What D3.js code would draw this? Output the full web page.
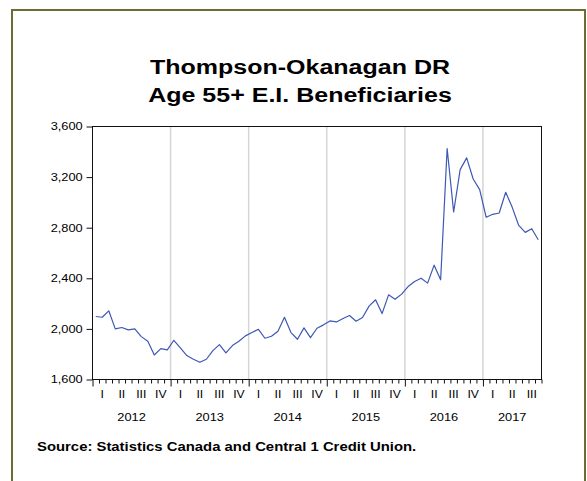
<!DOCTYPE html>
<html>
<head>
<meta charset="utf-8">
<script src="https://cdn.jsdelivr.net/npm/d3@7"></script>
<style>
  html, body { margin: 0; padding: 0; background: #fff; }
  svg { display: block; }
  text { font-family: "Liberation Sans", Arial, sans-serif; fill: #000; }
</style>
</head>
<body>
<svg id="chart" width="587" height="481"></svg>
<script>
// Monthly E.I. beneficiaries aged 55+, Jan 2012 – Sep 2017
const startYear = 2012;
const values = [
  2098, 2092, 2143, 2000, 2011, 1992, 2000, 1939, 1902, 1794, 1844, 1834,   // 2012
  1910, 1850, 1789, 1760, 1736, 1760, 1828, 1876, 1810, 1868, 1902, 1945,   // 2013
  1971, 1997, 1926, 1942, 1982, 2092, 1971, 1918, 2008, 1931, 2005, 2032,   // 2014
  2063, 2055, 2082, 2106, 2061, 2090, 2180, 2230, 2121, 2269, 2235, 2275,   // 2015
  2335, 2375, 2401, 2362, 2504, 2388, 3426, 2924, 3259, 3352, 3185, 3101,   // 2016
  2882, 2906, 2916, 3080, 2961, 2818, 2763, 2792, 2705                      // 2017
];
const years = ["2012", "2013", "2014", "2015", "2016", "2017"];
const quarterLabels = ["I", "II", "III", "IV"];
const yTicks = [1600, 2000, 2400, 2800, 3200, 3600];
const titleLines = ["Thompson-Okanagan DR", "Age 55+ E.I. Beneficiaries"];
const sourceNote = "Source: Statistics Canada and Central 1 Credit Union.";

const nMonths = values.length;
const SX = 1.22; // horizontal stretch of the lettering

const svg = d3.select("#chart");

// outer frame
svg.append("rect")
  .attr("x", 12).attr("y", 10)
  .attr("width", 573).attr("height", 520)
  .attr("fill", "#fff")
  .attr("stroke", "#6d6d32").attr("stroke-width", 2);

const plot = { left: 92.5, right: 541.5, top: 126.5, bottom: 379.5 };

const x = d3.scaleLinear().domain([0, nMonths]).range([plot.left, plot.right]);
const y = d3.scaleLinear().domain([1600, 3600]).range([plot.bottom, plot.top]);

function stretchedText(g, tx, ty, str, opts) {
  const t = g.append("text")
    .attr("transform", `translate(${tx},${ty}) scale(${SX},1)`)
    .attr("text-anchor", opts.anchor || "middle")
    .attr("font-size", opts.size)
    .attr("font-weight", opts.weight || "normal")
    .text(str);
  return t;
}

// title
titleLines.forEach((s, i) => {
  stretchedText(svg, 300, 74 + i * 28, s, { size: 20.5, weight: "bold" });
});

// year separators
const yearStarts = d3.range(12, nMonths, 12);
svg.append("g").selectAll("line")
  .data(yearStarts)
  .join("line")
  .attr("x1", d => x(d)).attr("x2", d => x(d))
  .attr("y1", plot.top).attr("y2", plot.bottom)
  .attr("stroke", "#d6d6d6").attr("stroke-width", 1.5);

// series line (points at mid-month)
const line = d3.line()
  .x((d, i) => x(i + 0.5))
  .y(d => y(d));
svg.append("path")
  .datum(values)
  .attr("fill", "none")
  .attr("stroke", "#3d58b6")
  .attr("stroke-width", 1.2)
  .attr("stroke-linejoin", "round")
  .attr("d", line);

// plot border
svg.append("rect")
  .attr("x", plot.left).attr("y", plot.top)
  .attr("width", plot.right - plot.left).attr("height", plot.bottom - plot.top)
  .attr("fill", "none").attr("stroke", "#111").attr("stroke-width", 1);

// y axis
const yAxis = svg.append("g")
  .attr("transform", `translate(${plot.left},0)`)
  .call(d3.axisLeft(y).tickValues(yTicks).tickFormat(d3.format(",")).tickSize(6).tickPadding(2));
yAxis.select(".domain").remove();
yAxis.selectAll(".tick line").attr("stroke", "#111");
yAxis.selectAll(".tick text")
  .attr("font-family", "Liberation Sans, Arial, sans-serif")
  .attr("font-size", 10.5)
  .attr("fill", "#111")
  .attr("transform", `scale(${SX},1)`);

// x axis: month ticks, longer at year boundaries
const xAxis = svg.append("g")
  .attr("transform", `translate(0,${plot.bottom})`)
  .call(d3.axisBottom(x).tickValues(d3.range(0, nMonths + 1)).tickSize(4).tickFormat(""));
xAxis.select(".domain").remove();
xAxis.selectAll(".tick line")
  .attr("stroke", "#111")
  .attr("y2", d => (d % 12 === 0 ? 7 : 4));

// quarter labels
const quarters = d3.range(0, Math.ceil(nMonths / 3));
const qg = svg.append("g");
quarters.forEach(q => {
  stretchedText(qg, x(q * 3 + 1.5), 397.5, quarterLabels[q % 4], { size: 10 });
});

// year labels centred on the months shown
const yg = svg.append("g");
years.forEach((yr, i) => {
  const a = i * 12, b = Math.min(nMonths, a + 12);
  stretchedText(yg, x((a + b) / 2), 421, yr, { size: 10.5 });
});

// source note
stretchedText(svg, 37, 451, sourceNote, { size: 12.2, weight: "bold", anchor: "start" });
</script>
</body>
</html>
